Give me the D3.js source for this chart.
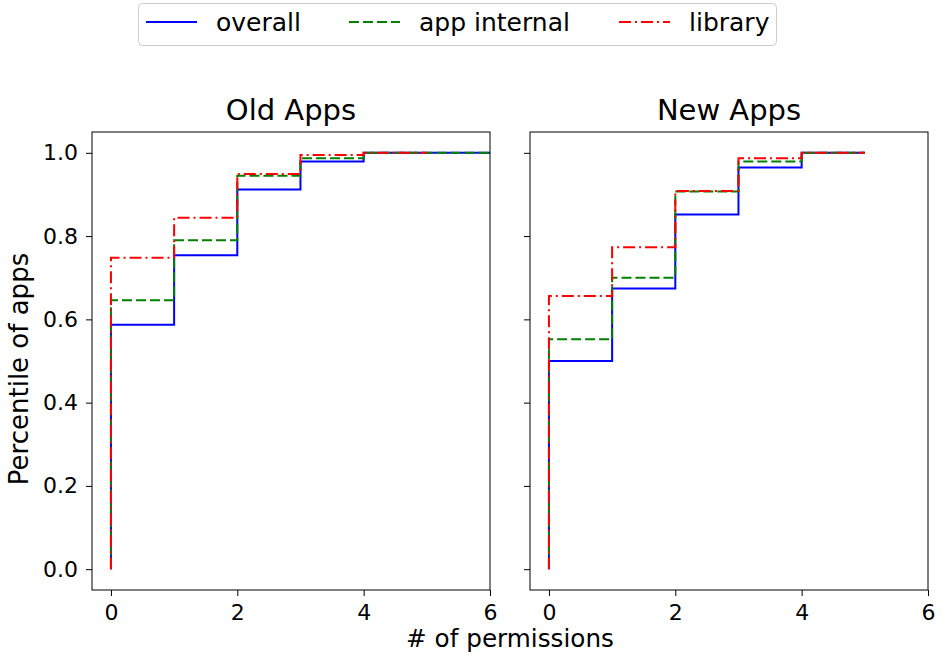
<!DOCTYPE html>
<html><head><meta charset="utf-8">
<script src="https://cdn.jsdelivr.net/npm/d3@7"></script>
<style>body{margin:0;background:#fff}svg{display:block}text{font-family:"DejaVu Sans",sans-serif;fill:#000}</style>
</head><body><svg id="c" width="943" height="662"></svg>
<script>
// ---- data ----
const seriesNames = ["overall", "app internal", "library"];
const panelTitles = ["Old Apps", "New Apps"];
// cumulative percentile of apps at 0,1,2,... permissions
const oldOverall  = [0.587, 0.754, 0.912, 0.979, 1.0, 1.0, 1.0];
const oldInternal = [0.646, 0.790, 0.945, 0.987, 1.0, 1.0, 1.0];
const oldLibrary  = [0.748, 0.844, 0.949, 0.995, 1.0, 1.0];
const newOverall  = [0.500, 0.674, 0.852, 0.965, 1.0, 1.0];
const newInternal = [0.552, 0.700, 0.907, 0.979, 1.0, 1.0];
const newLibrary  = [0.656, 0.773, 0.908, 0.987, 1.0, 1.0];
const xTicks = [0, 2, 4, 6];
const yTicks = [0.0, 0.2, 0.4, 0.6, 0.8, 1.0];

const panels = [
  {title: panelTitles[0], series: [oldOverall, oldInternal, oldLibrary]},
  {title: panelTitles[1], series: [newOverall, newInternal, newLibrary]}
];
const colors = ["#0000ff", "#008000", "#ff0000"];
const dashes = [null, "10,4", "12,4,2,4"];

const svg = d3.select("#c");
const plotTop = 132, plotBottom = 590;
const lefts = [92, 530], plotW = 398;

const y = d3.scaleLinear().domain([-0.05, 1.05]).range([plotBottom, plotTop]);

panels.forEach((p, i) => {
  const x = d3.scaleLinear().domain([-0.3, 6]).range([lefts[i], lefts[i] + plotW]);
  const g = svg.append("g");
  const line = d3.line().x(d => x(d[0])).y(d => y(d[1])).curve(d3.curveStepAfter);
  p.series.forEach((vals, s) => {
    const pts = [[0, 0]].concat(vals.map((v, k) => [k, v]));
    g.append("path").attr("d", line(pts)).attr("fill", "none")
      .attr("stroke", colors[s]).attr("stroke-width", 2)
      .attr("stroke-dasharray", dashes[s]);
  });
  g.append("rect").attr("x", lefts[i]).attr("y", plotTop).attr("width", plotW).attr("height", plotBottom - plotTop)
    .attr("fill", "none").attr("stroke", "#000").attr("stroke-width", 1);
  const xa = g.append("g").attr("transform", `translate(0,${plotBottom})`)
    .call(d3.axisBottom(x).tickValues(xTicks).tickFormat(d3.format("d")).tickSize(6).tickSizeOuter(0).tickPadding(8));
  const ya = g.append("g").attr("transform", `translate(${lefts[i]},0)`)
    .call(d3.axisLeft(y).tickValues(yTicks).tickFormat(i === 0 ? d3.format(".1f") : () => "").tickSize(6).tickSizeOuter(0).tickPadding(8));
  [xa, ya].forEach(a => {
    a.select(".domain").remove();
    a.selectAll("text").attr("font-size", 22).attr("font-family", "DejaVu Sans");
    a.selectAll("line").attr("stroke", "#000");
  });
  g.append("text").attr("x", lefts[i] + plotW / 2).attr("y", 120).attr("text-anchor", "middle")
    .attr("font-size", 29).text(p.title);
});

svg.append("text").attr("transform", "translate(28,369) rotate(-90)").attr("text-anchor", "middle")
  .attr("font-size", 26).text("Percentile of apps");
svg.append("text").attr("x", 510).attr("y", 647).attr("text-anchor", "middle")
  .attr("font-size", 24.7).text("# of permissions");

// legend
const lg = svg.append("g");
lg.append("rect").attr("x", 138.5).attr("y", 3.5).attr("width", 638).attr("height", 42).attr("rx", 4)
  .attr("fill", "#fff").attr("stroke", "#ccc");
const lx = [146, 349, 619];
seriesNames.forEach((n, s) => {
  lg.append("line").attr("x1", lx[s]).attr("x2", lx[s] + 51).attr("y1", 22).attr("y2", 22)
    .attr("stroke", colors[s]).attr("stroke-width", 2).attr("stroke-dasharray", dashes[s]);
  lg.append("text").attr("x", lx[s] + 70).attr("y", 31).attr("font-size", 25).text(n);
});
</script></body></html>
